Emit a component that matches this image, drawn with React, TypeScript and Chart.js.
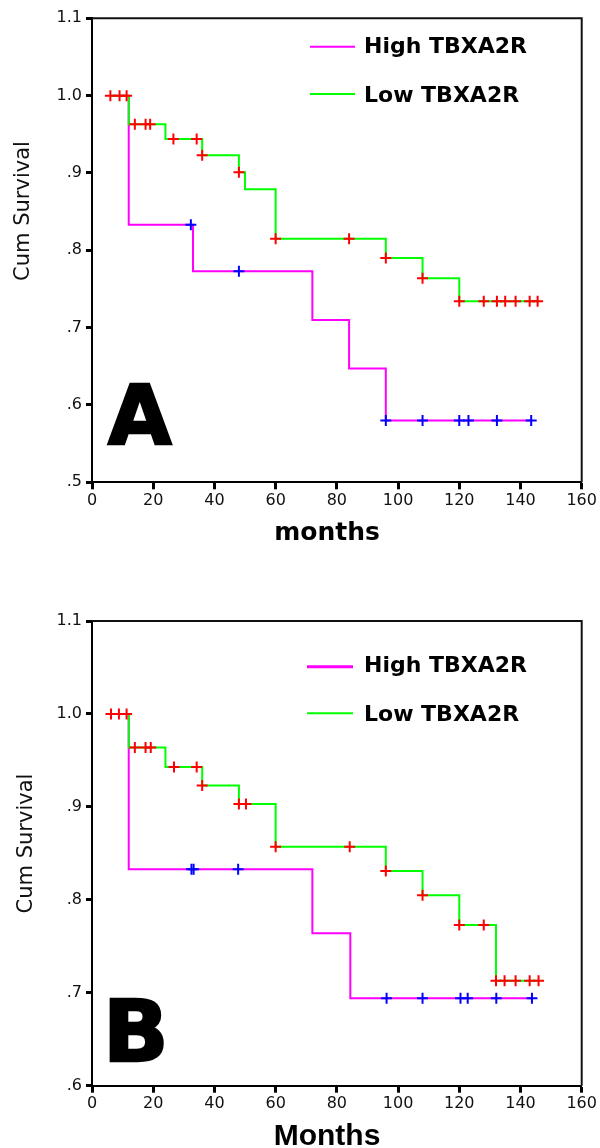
import React, { useEffect, useRef } from 'react';
import { Chart, registerables } from 'chart.js';

Chart.register(...registerables);

// ---------- data ----------
const X_TICKS = [0, 20, 40, 60, 80, 100, 120, 140, 160];
const Y_TICKS_A = [0.5, 0.6, 0.7, 0.8, 0.9, 1.0, 1.1];
const Y_TICKS_B = [0.6, 0.7, 0.8, 0.9, 1.0, 1.1];
const SERIES_LABELS = ['High TBXA2R', 'Low TBXA2R'];
const X_TITLES = ['months', 'Months'];
const Y_TITLE = 'Cum Survival';
const PANEL_LETTERS = ['A', 'B'];

// Panel A – step times (months) and cumulative survival after each step
const A_HIGH_T = [6, 12, 33, 72, 84, 96, 143.5];
const A_HIGH_S = [1.0, 0.833, 0.773, 0.71, 0.647, 0.58, 0.58];
const A_HIGH_CENSOR = [32.3, 48, 96, 108, 120, 123, 132.3, 143.5];
const A_LOW_T = [6, 12, 24, 36, 48, 50, 60, 96, 108, 120, 145.6];
const A_LOW_S = [1.0, 0.963, 0.944, 0.923, 0.901, 0.879, 0.815, 0.79, 0.764, 0.734, 0.734];
const A_LOW_CENSOR = [6, 9, 11.3, 14, 17.5, 19, 26.6, 34.2, 36, 48, 60, 84, 96, 108, 120, 128, 132.3, 135, 138.4, 143, 145.6];

// Panel B
const B_HIGH_T = [6, 12, 72, 84.4, 143.75];
const B_HIGH_S = [1.0, 0.833, 0.764, 0.694, 0.694];
const B_HIGH_CENSOR = [32.5, 33.2, 47.75, 96.25, 108, 120.4, 122.75, 132.1, 143.75];
const B_LOW_T = [6, 12, 24, 36, 48, 60, 96, 108, 120, 132, 145.9];
const B_LOW_S = [1.0, 0.964, 0.943, 0.923, 0.903, 0.857, 0.831, 0.805, 0.773, 0.713, 0.713];
const B_LOW_CENSOR = [6.2, 8.8, 11.3, 14, 17.5, 19.2, 26.8, 34.2, 36, 48, 50.3, 60, 84.2, 96, 108, 120, 128, 132, 134.8, 138.4, 143, 145.9];

// ---------- helpers ----------
function toPoints(t: number[], s: number[]) {
  return t.map((x, i) => ({ x, y: s[i] }));
}
function levelAt(t: number[], s: number[], x: number) {
  let v = s[0];
  for (let i = 0; i < t.length; i++) if (t[i] <= x + 1e-9) v = s[i];
  return v;
}
function censorPoints(t: number[], s: number[], c: number[]) {
  return c.map((x) => ({ x, y: levelAt(t, s, x) }));
}

type PanelSpec = {
  top: number;
  height: number;
  plotTop: number;
  plotBottom: number;
  yTicks: number[];
  highT: number[];
  highS: number[];
  highC: number[];
  lowT: number[];
  lowS: number[];
  lowC: number[];
  letter: string;
  letterFont: string;
  letterLeft: number;
  letterBase: number;
  xTitle: string;
  xTitleFont: string;
  xTitleBase: number;
  yTitleBase: number;
  yTitleCenter: number;
  legLineX1: number;
  legLineX2: number;
  legHighY: number;
  legLowY: number;
  legHighBase: number;
  legLowBase: number;
  legHighWidth: number;
};

const PANELS: PanelSpec[] = [
  {
    top: 0,
    height: 574,
    plotTop: 18.3,
    plotBottom: 482.3,
    yTicks: Y_TICKS_A,
    highT: A_HIGH_T,
    highS: A_HIGH_S,
    highC: A_HIGH_CENSOR,
    lowT: A_LOW_T,
    lowS: A_LOW_S,
    lowC: A_LOW_CENSOR,
    letter: PANEL_LETTERS[0],
    letterFont: 'bold 82px "DejaVu Sans"',
    letterLeft: 107,
    letterBase: 445,
    xTitle: X_TITLES[0],
    xTitleFont: 'bold 25px "DejaVu Sans"',
    xTitleBase: 540,
    yTitleBase: 28.5,
    yTitleCenter: 211,
    legLineX1: 310,
    legLineX2: 355,
    legHighY: 46.7,
    legLowY: 94,
    legHighBase: 53.3,
    legLowBase: 101.7,
    legHighWidth: 2,
  },
  {
    top: 574,
    height: 574,
    plotTop: 47,
    plotBottom: 511.7,
    yTicks: Y_TICKS_B,
    highT: B_HIGH_T,
    highS: B_HIGH_S,
    highC: B_HIGH_CENSOR,
    lowT: B_LOW_T,
    lowS: B_LOW_S,
    lowC: B_LOW_CENSOR,
    letter: PANEL_LETTERS[1],
    letterFont: 'bold 86px "DejaVu Sans"',
    letterLeft: 109,
    letterBase: 488,
    xTitle: X_TITLES[1],
    xTitleFont: 'bold 30px "Liberation Sans"',
    xTitleBase: 571,
    yTitleBase: 32,
    yTitleCenter: 269.5,
    legLineX1: 307,
    legLineX2: 353,
    legHighY: 92.7,
    legLowY: 139.3,
    legHighBase: 97.7,
    legLowBase: 146.7,
    legHighWidth: 3,
  },
];

const MAGENTA = '#ff00ff';
const GREEN = '#00ff00';
const RED = '#ff0000';
const BLUE = '#0000ff';

function decorPlugin(p: PanelSpec) {
  return {
    id: 'decor',
    afterDraw(chart: any) {
      const ctx: CanvasRenderingContext2D = chart.ctx;
      const a = chart.chartArea;
      ctx.save();
      // frame (top & right)
      ctx.strokeStyle = '#111';
      ctx.lineWidth = 2;
      ctx.beginPath();
      ctx.moveTo(a.left, a.top);
      ctx.lineTo(a.right, a.top);
      ctx.lineTo(a.right, a.bottom);
      ctx.stroke();

      // legend
      const ds = chart.data.datasets;
      const items = [
        { label: ds[1].label, color: ds[1].borderColor, y: p.legHighY, base: p.legHighBase, w: p.legHighWidth },
        { label: ds[0].label, color: ds[0].borderColor, y: p.legLowY, base: p.legLowBase, w: 2 },
      ];
      ctx.font = 'bold 22px "DejaVu Sans"';
      ctx.textAlign = 'left';
      ctx.textBaseline = 'alphabetic';
      items.forEach((it) => {
        ctx.strokeStyle = it.color;
        ctx.lineWidth = it.w;
        ctx.beginPath();
        ctx.moveTo(p.legLineX1, it.y);
        ctx.lineTo(p.legLineX2, it.y);
        ctx.stroke();
        ctx.fillStyle = '#000';
        ctx.fillText(it.label, 364, it.base);
      });

      // panel letter
      ctx.font = p.letterFont;
      const m = ctx.measureText(p.letter);
      ctx.fillStyle = '#000';
      ctx.strokeStyle = '#000';
      ctx.lineWidth = 2.5;
      ctx.lineJoin = 'miter';
      const lx = p.letterLeft + m.actualBoundingBoxLeft + 1;
      ctx.fillText(p.letter, lx, p.letterBase - 1);
      ctx.strokeText(p.letter, lx, p.letterBase - 1);

      // x title
      ctx.font = p.xTitleFont;
      ctx.textAlign = 'center';
      ctx.fillText(p.xTitle, 327, p.xTitleBase);

      // y title
      ctx.translate(p.yTitleBase, p.yTitleCenter);
      ctx.rotate(-Math.PI / 2);
      ctx.font = '21px "DejaVu Sans"';
      ctx.textAlign = 'center';
      ctx.textBaseline = 'alphabetic';
      ctx.fillStyle = '#111';
      ctx.fillText(Y_TITLE, 0, 0);
      ctx.restore();
    },
  };
}

function fmtY(v: number) {
  const s = Number(v).toFixed(1);
  return s.startsWith('0') ? s.slice(1) : s;
}

function KMPanel({ p }: { p: PanelSpec }) {
  const ref = useRef<HTMLCanvasElement>(null);
  useEffect(() => {
    const canvas = ref.current!;
    const tickFont = { family: '"DejaVu Sans"', size: 16 };
    const chart = new Chart(canvas, {
      type: 'line',
      data: {
        datasets: [
          {
            label: SERIES_LABELS[1],
            data: toPoints(p.lowT, p.lowS),
            borderColor: GREEN,
            backgroundColor: GREEN,
            borderWidth: 2,
            stepped: true,
            pointRadius: 0,
            fill: false,
            order: 2,
          },
          {
            label: SERIES_LABELS[0],
            data: toPoints(p.highT, p.highS),
            borderColor: MAGENTA,
            backgroundColor: MAGENTA,
            borderWidth: 2,
            stepped: true,
            pointRadius: 0,
            fill: false,
            order: 3,
          },
          {
            label: SERIES_LABELS[1] + ' censored',
            data: censorPoints(p.lowT, p.lowS, p.lowC),
            showLine: false,
            pointStyle: 'cross',
            pointRadius: 5.5,
            pointBorderColor: RED,
            pointBackgroundColor: RED,
            pointBorderWidth: 2,
            order: 1,
          },
          {
            label: SERIES_LABELS[0] + ' censored',
            data: censorPoints(p.highT, p.highS, p.highC),
            showLine: false,
            pointStyle: 'cross',
            pointRadius: 5.5,
            pointBorderColor: BLUE,
            pointBackgroundColor: BLUE,
            pointBorderWidth: 2,
            order: 0,
          },
        ],
      } as any,
      options: {
        animation: false,
        responsive: false,
        maintainAspectRatio: false,
        devicePixelRatio: 1,
        events: [],
        layout: {
          padding: { left: 0, right: 18.3, top: p.plotTop, bottom: p.height - p.plotBottom - 40 },
        },
        plugins: { legend: { display: false }, tooltip: { enabled: false }, title: { display: false } },
        scales: {
          x: {
            type: 'linear',
            min: 0,
            max: 160,
            afterBuildTicks: (s: any) => {
              s.ticks = X_TICKS.map((v) => ({ value: v }));
            },
            afterFit: (s: any) => {
              s.height = 40;
            },
            ticks: {
              font: tickFont,
              color: '#111',
              padding: 2,
              maxRotation: 0,
              autoSkip: false,
              callback: (v: any) => String(v),
            },
            grid: { display: true, drawOnChartArea: false, drawTicks: true, tickLength: 7, tickWidth: 3, tickColor: '#000' },
            border: { display: true, color: '#000', width: 2 },
          },
          y: {
            type: 'linear',
            min: p.yTicks[0],
            max: p.yTicks[p.yTicks.length - 1],
            afterBuildTicks: (s: any) => {
              s.ticks = p.yTicks.map((v) => ({ value: v }));
            },
            afterFit: (s: any) => {
              s.width = 92;
            },
            ticks: {
              font: tickFont,
              color: '#111',
              padding: 4,
              autoSkip: false,
              callback: (v: any) => fmtY(v),
            },
            grid: { display: true, drawOnChartArea: false, drawTicks: true, tickLength: 6, tickWidth: 3, tickColor: '#000' },
            border: { display: true, color: '#000', width: 2 },
          },
        },
      } as any,
      plugins: [decorPlugin(p)],
    });
    return () => chart.destroy();
  }, []);
  return (
    <div style={{ position: 'absolute', left: 0, top: p.top, width: 600, height: p.height }}>
      <canvas ref={ref} width={600} height={p.height} style={{ width: 600, height: p.height, display: 'block' }} />
    </div>
  );
}

export default function App() {
  return (
    <div style={{ position: 'absolute', left: 0, top: 0, width: 600, height: 1148, background: '#fff' }}>
      {PANELS.map((p, i) => (
        <KMPanel key={i} p={p} />
      ))}
    </div>
  );
}
